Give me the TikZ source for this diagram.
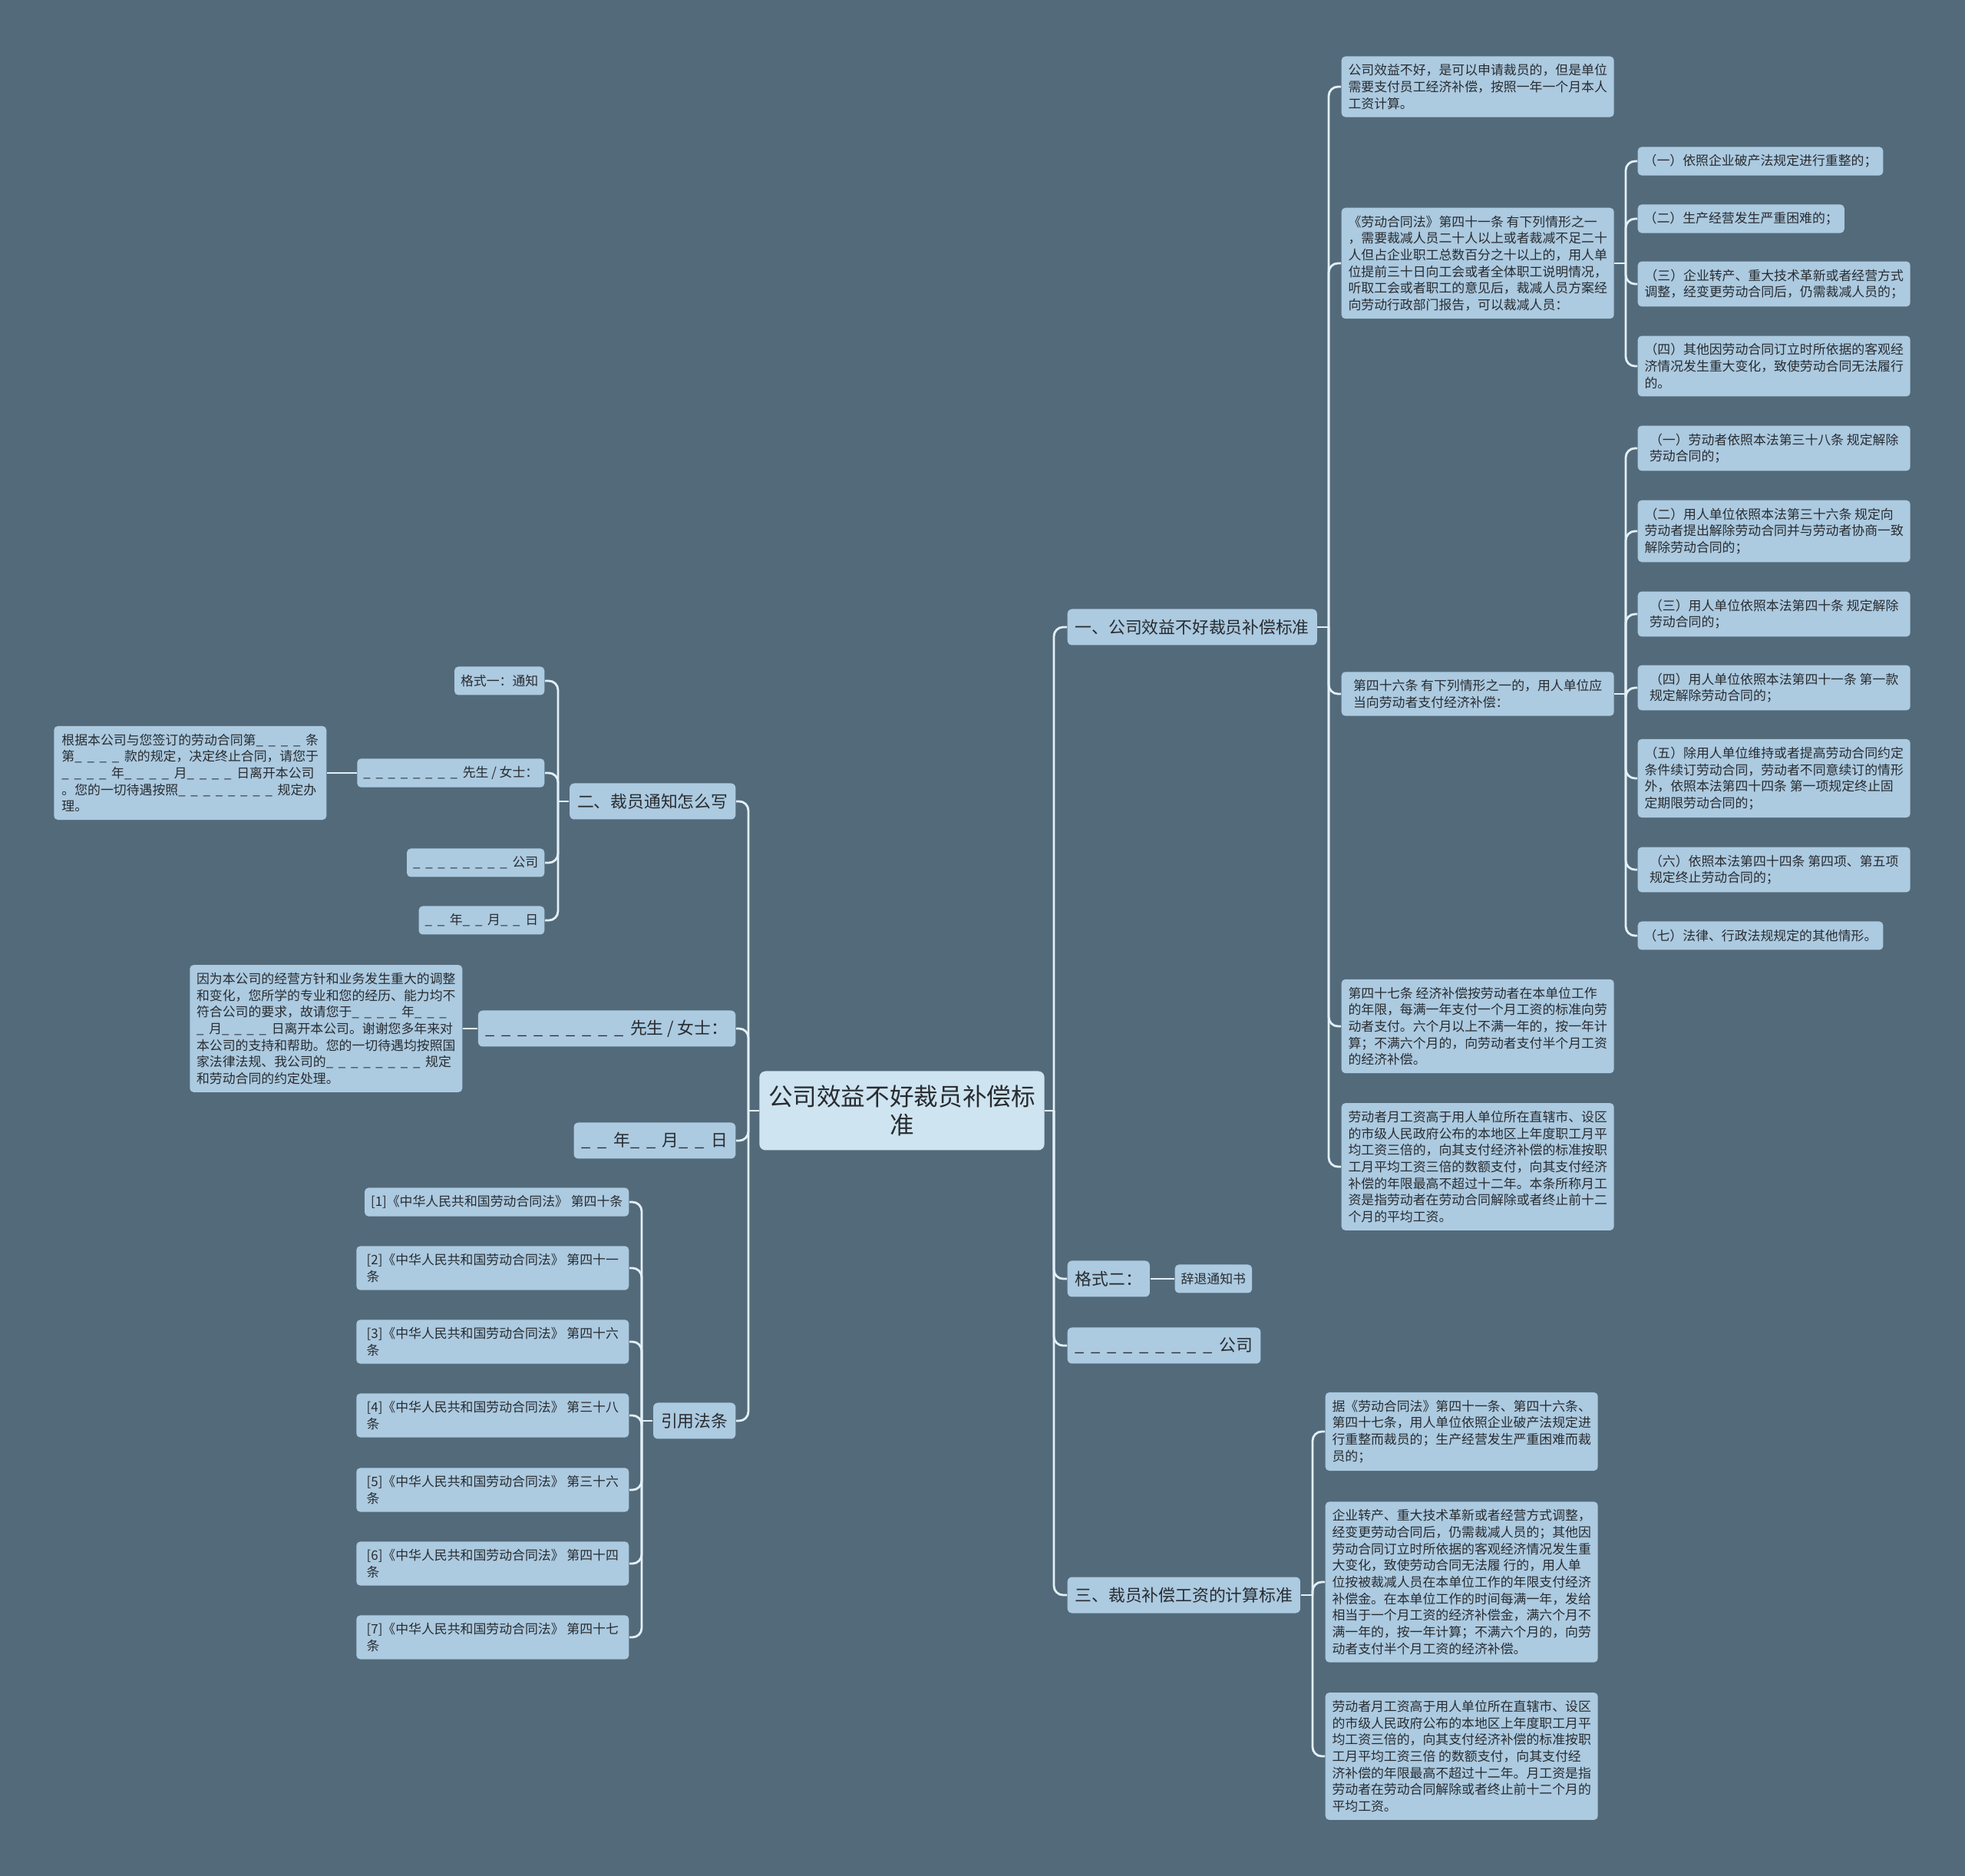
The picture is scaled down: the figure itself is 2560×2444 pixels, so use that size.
\documentclass[tikz,border=0pt]{standalone}
\usepackage{fontspec}
\setmainfont{Noto Sans CJK SC}
\usepackage{tikz}
\usepackage{xcolor}
\definecolor{bgslate}{RGB}{83,106,122}
\definecolor{leafblue}{RGB}{172,202,224}
\definecolor{rootblue}{RGB}{207,228,241}
\definecolor{linepale}{RGB}{226,240,248}
\definecolor{inkgray}{RGB}{40,44,48}
\newcommand{\leaffont}{\fontsize{4.8pt}{6.17pt}\selectfont}
\newcommand{\branchfont}{\fontsize{6.2pt}{7.5pt}\selectfont}
\newcommand{\rootfont}{\fontsize{9pt}{10.5pt}\selectfont}
\newcommand{\fillin}{\_\hspace{0.4em}}
\tikzstyle{leaf} = [rectangle, rounded corners=0.5mm, fill=leafblue, text=inkgray, font=\leaffont, align=left,
inner xsep=0.8mm, inner ysep=1mm, minimum height=3.7mm]
\tikzstyle{wleaf} = [leaf, minimum width=35.5mm]
\tikzstyle{branch} = [rectangle, rounded corners=0.6mm, fill=leafblue, text=inkgray, font=\branchfont, align=left,
inner xsep=1mm, minimum height=4.7mm]
\tikzstyle{rootbox} = [rectangle, rounded corners=0.8mm, fill=rootblue, text=inkgray, font=\rootfont, align=center,
minimum width=36.4mm, minimum height=10.3mm]
\tikzstyle{conn} = [draw=linepale, line width=0.28mm, rounded corners=1.2mm]

\begin{document}
\begin{tikzpicture}[x=0.1mm, y=-0.1mm]
            \fill[bgslate] (0,0) rectangle (2560,2444);
            \useasboundingbox (0,0) rectangle (2560,2444);

            \node(root) [rootbox] at (1175,1447) {公司效益不好裁员补偿标\\准};

            % Right side branches
            \node(standard) [branch, anchor=west] at (1390,817) {一、公司效益不好裁员补偿标准};
            \node(fmttwo) [branch, anchor=west] at (1390,1666) {格式二：};
            \node(company) [branch, anchor=west] at (1390,1753) {\fillin\fillin\fillin\fillin\fillin\fillin\fillin\fillin\fillin 公司};
            \node(calc) [branch, anchor=west] at (1390,2078) {三、裁员补偿工资的计算标准};

            % Standard sub nodes
            \node(stdbad) [wleaf, anchor=west] at (1747,113) {公司效益不好，是可以申请裁员的，但是单位\\需要支付员工经济补偿，按照一年一个月本人\\工资计算。};
            \node(art41) [wleaf, anchor=west] at (1747,343) {《劳动合同法》第四十一条 有下列情形之一\\，需要裁减人员二十人以上或者裁减不足二十\\人但占企业职工总数百分之十以上的，用人单\\位提前三十日向工会或者全体职工说明情况，\\听取工会或者职工的意见后，裁减人员方案经\\向劳动行政部门报告，可以裁减人员：};
            \node(art46) [wleaf, anchor=west] at (1747,904) {第四十六条 有下列情形之一的，用人单位应\\当向劳动者支付经济补偿：};
            \node(art47) [wleaf, anchor=west] at (1747,1337) {第四十七条 经济补偿按劳动者在本单位工作\\的年限，每满一年支付一个月工资的标准向劳\\动者支付。六个月以上不满一年的，按一年计\\算；不满六个月的，向劳动者支付半个月工资\\的经济补偿。};
            \node(highpay) [wleaf, anchor=west] at (1747,1520) {劳动者月工资高于用人单位所在直辖市、设区\\的市级人民政府公布的本地区上年度职工月平\\均工资三倍的，向其支付经济补偿的标准按职\\工月平均工资三倍的数额支付，向其支付经济\\补偿的年限最高不超过十二年。本条所称月工\\资是指劳动者在劳动合同解除或者终止前十二\\个月的平均工资。};

            % Article 41 cases
            \node(r41a) [leaf, anchor=west] at (2133,210) {（一）依照企业破产法规定进行重整的；};
            \node(r41b) [leaf, anchor=west] at (2133,285) {（二）生产经营发生严重困难的；};
            \node(r41c) [wleaf, anchor=west] at (2133,370) {（三）企业转产、重大技术革新或者经营方式\\调整，经变更劳动合同后，仍需裁减人员的；};
            \node(r41d) [wleaf, anchor=west] at (2133,477) {（四）其他因劳动合同订立时所依据的客观经\\济情况发生重大变化，致使劳动合同无法履行\\的。};

            % Article 46 cases
            \node(r46a) [wleaf, anchor=west] at (2133,584) {（一）劳动者依照本法第三十八条 规定解除\\劳动合同的；};
            \node(r46b) [wleaf, anchor=west] at (2133,692) {（二）用人单位依照本法第三十六条 规定向\\劳动者提出解除劳动合同并与劳动者协商一致\\解除劳动合同的；};
            \node(r46c) [wleaf, anchor=west] at (2133,800) {（三）用人单位依照本法第四十条 规定解除\\劳动合同的；};
            \node(r46d) [wleaf, anchor=west] at (2133,896) {（四）用人单位依照本法第四十一条 第一款\\规定解除劳动合同的；};
            \node(r46e) [wleaf, anchor=west] at (2133,1014) {（五）除用人单位维持或者提高劳动合同约定\\条件续订劳动合同，劳动者不同意续订的情形\\外，依照本法第四十四条 第一项规定终止固\\定期限劳动合同的；};
            \node(r46f) [wleaf, anchor=west] at (2133,1133) {（六）依照本法第四十四条 第四项、第五项\\规定终止劳动合同的；};
            \node(r46g) [leaf, anchor=west] at (2133,1219) {（七）法律、行政法规规定的其他情形。};

            \node(dismiss) [leaf, anchor=west] at (1530,1666) {辞退通知书};

            % Calculation sub nodes
            \node(calca) [wleaf, anchor=west] at (1726,1865) {据《劳动合同法》第四十一条、第四十六条、\\第四十七条，用人单位依照企业破产法规定进\\行重整而裁员的；生产经营发生严重困难而裁\\员的；};
            \node(calcb) [wleaf, anchor=west] at (1726,2061) {企业转产、重大技术革新或者经营方式调整，\\经变更劳动合同后，仍需裁减人员的；其他因\\劳动合同订立时所依据的客观经济情况发生重\\大变化，致使劳动合同无法履 行的，用人单\\位按被裁减人员在本单位工作的年限支付经济\\补偿金。在本单位工作的时间每满一年，发给\\相当于一个月工资的经济补偿金，满六个月不\\满一年的，按一年计算；不满六个月的，向劳\\动者支付半个月工资的经济补偿。};
            \node(calcc) [wleaf, anchor=west] at (1726,2288) {劳动者月工资高于用人单位所在直辖市、设区\\的市级人民政府公布的本地区上年度职工月平\\均工资三倍的，向其支付经济补偿的标准按职\\工月平均工资三倍 的数额支付，向其支付经\\济补偿的年限最高不超过十二年。月工资是指\\劳动者在劳动合同解除或者终止前十二个月的\\平均工资。};

            % Left side branches
            \node(notice) [branch, anchor=east] at (959,1044) {二、裁员通知怎么写};
            \node(sirtwo) [branch, anchor=east] at (959,1340) {\fillin\fillin\fillin\fillin\fillin\fillin\fillin\fillin\fillin 先生 / 女士：};
            \node(datetwo) [branch, anchor=east] at (959,1486) {\fillin\fillin 年\fillin\fillin 月\fillin\fillin 日};
            \node(cite) [branch, anchor=east] at (959,1851) {引用法条};

            % Notice sub nodes
            \node(fmtone) [leaf, anchor=east] at (710,887) {格式一：通知};
            \node(sirone) [leaf, anchor=east] at (710,1007) {\fillin\fillin\fillin\fillin\fillin\fillin\fillin\fillin 先生 / 女士：};
            \node(compone) [leaf, anchor=east] at (710,1124) {\fillin\fillin\fillin\fillin\fillin\fillin\fillin\fillin 公司};
            \node(dateone) [leaf, anchor=east] at (710,1199) {\fillin\fillin 年\fillin\fillin 月\fillin\fillin 日};
            \node(letterone) [wleaf, anchor=east] at (426,1007) {根据本公司与您签订的劳动合同第\fillin\fillin\fillin\fillin 条\\第\fillin\fillin\fillin\fillin 款的规定，决定终止合同，请您于\\\fillin\fillin\fillin\fillin 年\fillin\fillin\fillin\fillin 月\fillin\fillin\fillin\fillin 日离开本公司\\。您的一切待遇按照\fillin\fillin\fillin\fillin\fillin\fillin\fillin\fillin 规定办\\理。};
            \node(lettertwo) [wleaf, anchor=east] at (603,1340) {因为本公司的经营方针和业务发生重大的调整\\和变化，您所学的专业和您的经历、能力均不\\符合公司的要求，故请您于\fillin\fillin\fillin\fillin 年\fillin\fillin\fillin\\\fillin 月\fillin\fillin\fillin\fillin 日离开本公司。谢谢您多年来对\\本公司的支持和帮助。您的一切待遇均按照国\\家法律法规、我公司的\fillin\fillin\fillin\fillin\fillin\fillin\fillin\fillin 规定\\和劳动合同的约定处理。};

            % Cited laws
            \node(law1) [leaf, anchor=east] at (820,1566) {[1]《中华人民共和国劳动合同法》 第四十条};
            \node(law2) [wleaf, anchor=east] at (820,1652) {[2]《中华人民共和国劳动合同法》 第四十一\\条};
            \node(law3) [wleaf, anchor=east] at (820,1748) {[3]《中华人民共和国劳动合同法》 第四十六\\条};
            \node(law4) [wleaf, anchor=east] at (820,1844) {[4]《中华人民共和国劳动合同法》 第三十八\\条};
            \node(law5) [wleaf, anchor=east] at (820,1941) {[5]《中华人民共和国劳动合同法》 第三十六\\条};
            \node(law6) [wleaf, anchor=east] at (820,2037) {[6]《中华人民共和国劳动合同法》 第四十四\\条};
            \node(law7) [wleaf, anchor=east] at (820,2133) {[7]《中华人民共和国劳动合同法》 第四十七\\条};

            % Joints
            \coordinate (rjoin) at (1373,1447);
            \coordinate (ljoin) at (975,1447);
            \coordinate (stdjoin) at (1731,817);
            \coordinate (art41join) at (2118,343);
            \coordinate (art46join) at (2118,904);
            \coordinate (calcjoin) at (1710,2078);
            \coordinate (noticejoin) at (727,1044);
            \coordinate (citejoin) at (836,1851);

            % Draw Lines right
            \draw[conn] (root.east) -- (rjoin);
            \draw[conn] (rjoin) |- (standard.west);
            \draw[conn] (rjoin) |- (fmttwo.west);
            \draw[conn] (rjoin) |- (company.west);
            \draw[conn] (rjoin) |- (calc.west);
            \draw[conn] (standard.east) -- (stdjoin);
            \draw[conn] (stdjoin) |- (stdbad.west);
            \draw[conn] (stdjoin) |- (art41.west);
            \draw[conn] (stdjoin) |- (art46.west);
            \draw[conn] (stdjoin) |- (art47.west);
            \draw[conn] (stdjoin) |- (highpay.west);
            \draw[conn] (art41.east) -- (art41join);
            \draw[conn] (art41join) |- (r41a.west);
            \draw[conn] (art41join) |- (r41b.west);
            \draw[conn] (art41join) |- (r41c.west);
            \draw[conn] (art41join) |- (r41d.west);
            \draw[conn] (art46.east) -- (art46join);
            \draw[conn] (art46join) |- (r46a.west);
            \draw[conn] (art46join) |- (r46b.west);
            \draw[conn] (art46join) |- (r46c.west);
            \draw[conn] (art46join) |- (r46d.west);
            \draw[conn] (art46join) |- (r46e.west);
            \draw[conn] (art46join) |- (r46f.west);
            \draw[conn] (art46join) |- (r46g.west);
            \draw[conn] (fmttwo.east) -- (dismiss.west);
            \draw[conn] (calc.east) -- (calcjoin);
            \draw[conn] (calcjoin) |- (calca.west);
            \draw[conn] (calcjoin) |- (calcb.west);
            \draw[conn] (calcjoin) |- (calcc.west);

            % Draw Lines left
            \draw[conn] (root.west) -- (ljoin);
            \draw[conn] (ljoin) |- (notice.east);
            \draw[conn] (ljoin) |- (sirtwo.east);
            \draw[conn] (ljoin) |- (datetwo.east);
            \draw[conn] (ljoin) |- (cite.east);
            \draw[conn] (notice.west) -- (noticejoin);
            \draw[conn] (noticejoin) |- (fmtone.east);
            \draw[conn] (noticejoin) |- (sirone.east);
            \draw[conn] (noticejoin) |- (compone.east);
            \draw[conn] (noticejoin) |- (dateone.east);
            \draw[conn] (sirone.west) -- (letterone.east);
            \draw[conn] (sirtwo.west) -- (lettertwo.east);
            \draw[conn] (cite.west) -- (citejoin);
            \draw[conn] (citejoin) |- (law1.east);
            \draw[conn] (citejoin) |- (law2.east);
            \draw[conn] (citejoin) |- (law3.east);
            \draw[conn] (citejoin) |- (law4.east);
            \draw[conn] (citejoin) |- (law5.east);
            \draw[conn] (citejoin) |- (law6.east);
            \draw[conn] (citejoin) |- (law7.east);
\end{tikzpicture}
\end{document}
